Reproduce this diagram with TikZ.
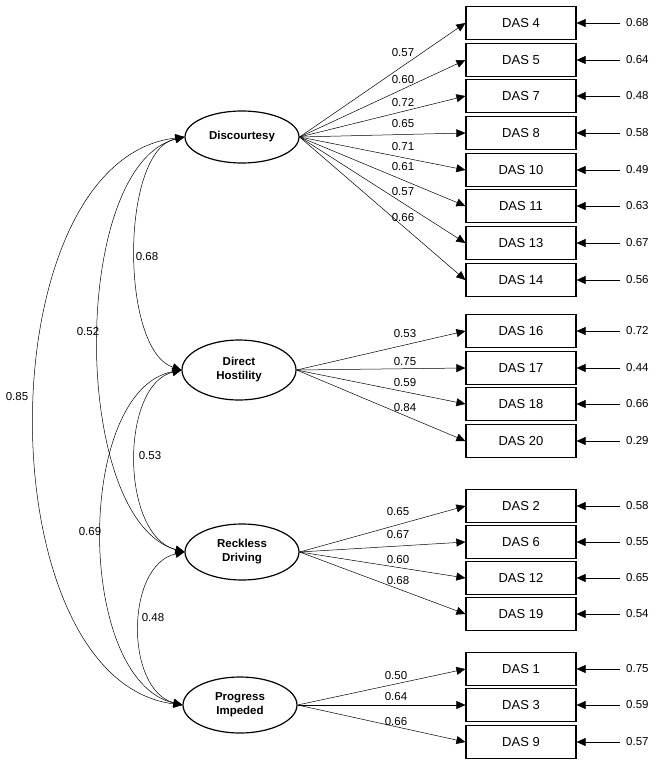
\documentclass[tikz,border=0pt]{standalone}
\usepackage{fontspec}
\setmainfont{Liberation Sans}
\usetikzlibrary{arrows.meta,shapes.geometric}
\begin{document}
\begin{tikzpicture}[x=1pt,y=-1pt,
  lat/.style={draw,ellipse,line width=1.2pt,minimum width=114pt,minimum height=52pt,font=\fontsize{11.5}{14}\selectfont\bfseries,align=center,inner sep=0pt},
  obs/.style={draw,line width=1.2pt,minimum width=110pt,minimum height=33pt,font=\fontsize{13}{14}\selectfont,inner sep=0pt},
  ld/.style={-{Triangle[length=9pt,width=8pt]},line width=0.5pt},
  cov/.style={{Triangle[length=9pt,width=8pt]}-{Triangle[length=9pt,width=8pt]},line width=0.5pt},
  lab/.style={font=\fontsize{11.5}{13}\selectfont,inner sep=1pt},
  err/.style={font=\fontsize{11.5}{13}\selectfont,anchor=west,inner sep=0pt}]
\useasboundingbox (0,0) rectangle (670,768);
\node[lat] (F1) at (242,137) {Discourtesy};
\node[lat,minimum height=60pt] (F2) at (239,370) {Direct\\Hostility};
\node[lat,minimum height=56pt] (F3) at (242,552) {Reckless\\Driving};
\node[lat,minimum height=56pt] (F4) at (240,705) {Progress\\Impeded};
% observed
\foreach \n/\y/\e in {4/23/0.68,5/60/0.64,7/96/0.48,8/133/0.58,10/170/0.49,11/206/0.63,13/243/0.67,14/280/0.56,
  16/331/0.72,17/368/0.44,18/404/0.66,20/441/0.29,2/506/0.58,6/542/0.55,12/578/0.65,19/614/0.54,1/669/0.75,3/705/0.59,9/742/0.57}{
  \node[obs] (D\n) at (521,\y) {DAS \n};
  \coordinate (E\n) at (620,\y);
  \draw[ld] (E\n) -- (D\n.east);
  \node[err] (T\n) at (626,\y) {\e};
}
% loadings
\foreach \n/\l/\ly in {4/0.57/53,5/0.60/80,7/0.72/103,8/0.65/124,10/0.71/147,11/0.61/167,13/0.57/192,14/0.66/218}{
  \draw[ld] (F1.east) -- (D\n.west);
  \node[lab] (L\n) at (403,\ly) {\l};}
\foreach \n/\l/\ly in {16/0.53/334,17/0.75/362,18/0.59/383,20/0.84/408}{
  \draw[ld] (F2.east) -- (D\n.west);
  \node[lab] (L\n) at (405,\ly) {\l};}
\foreach \n/\l/\ly in {2/0.65/512,6/0.67/535,12/0.60/560,19/0.68/581}{
  \draw[ld] (F3.east) -- (D\n.west);
  \node[lab] (L\n) at (398,\ly) {\l};}
\foreach \n/\l/\ly in {1/0.50/676,3/0.64/697,9/0.66/722}{
  \draw[ld] (F4.east) -- (D\n.west);
  \node[lab] (L\n) at (396,\ly) {\l};}
% covariances
\draw[cov] (F1.west) .. controls (120,150) and (120,350) .. (F2.west);
\node[lab] (C12) at (147,257) {0.68};
\draw[cov] (F1.west) .. controls (70,165) and (70,520) .. (F3.west);
\node[lab] (C13) at (88,332) {0.52};
\draw[cov] (F1.west) .. controls (-15,160) and (-15,680) .. (F4.west);
\node[lab] (C14) at (17,397) {0.85};
\draw[cov] (F2.west) .. controls (120,385) and (120,535) .. (F3.west);
\node[lab] (C23) at (150,456) {0.53};
\draw[cov] (F2.west) .. controls (75,390) and (75,680) .. (F4.west);
\node[lab] (C24) at (90,532) {0.69};
\draw[cov] (F3.west) .. controls (125,565) and (125,690) .. (F4.west);
\node[lab] (C34) at (153,618) {0.48};
\end{tikzpicture}
\end{document}
